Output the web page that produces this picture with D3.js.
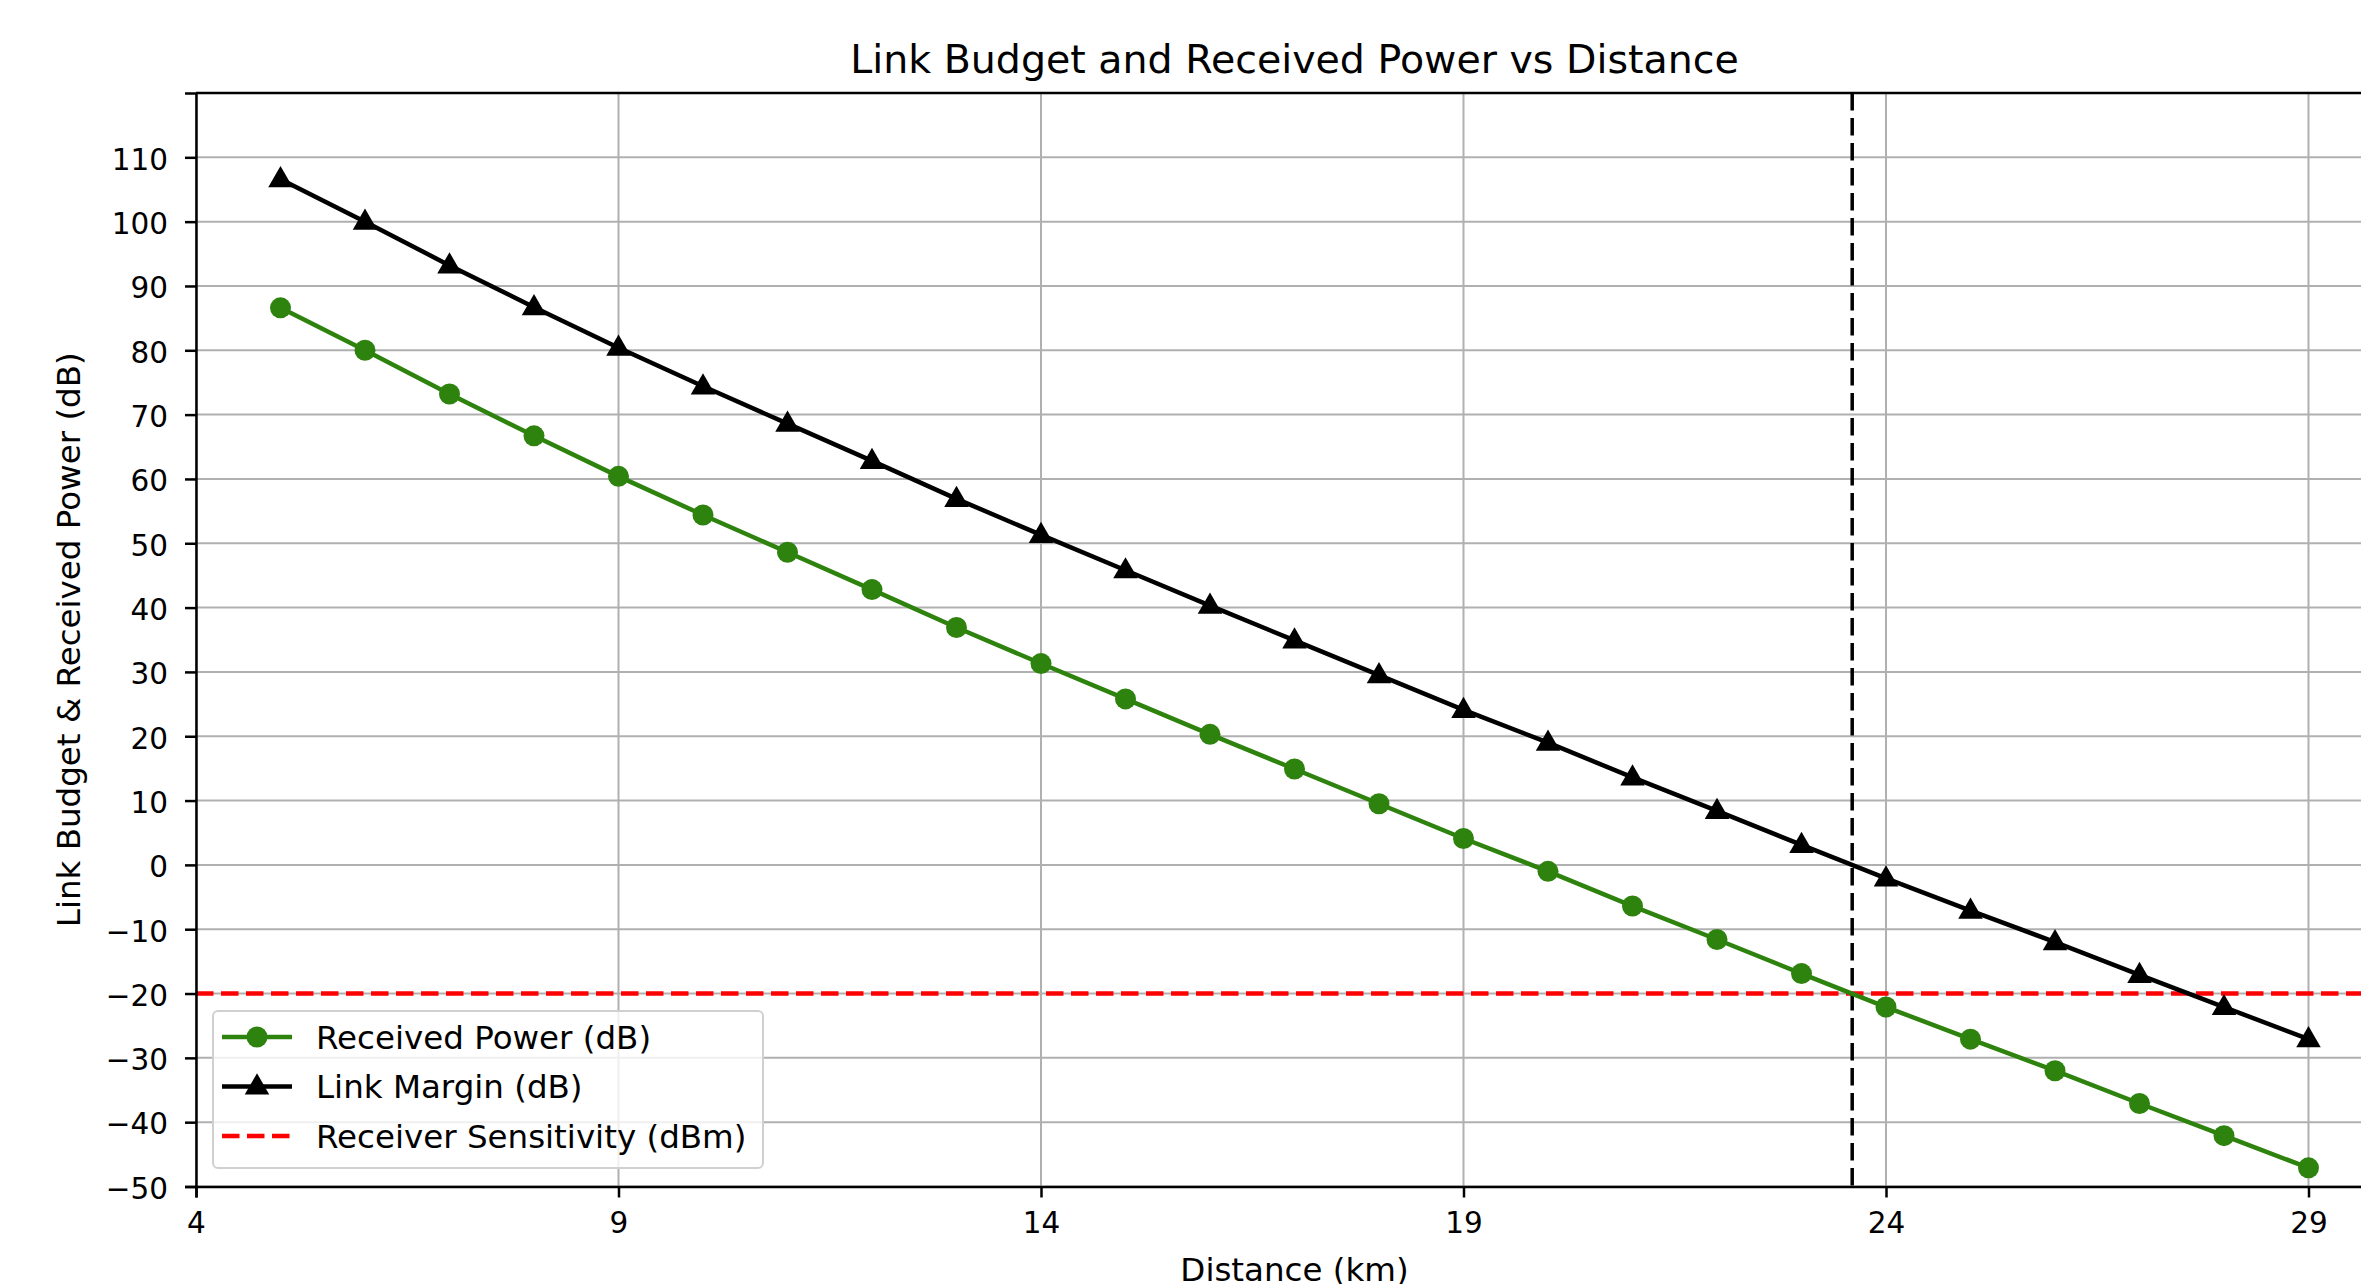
<!DOCTYPE html>
<html lang="en">
<head>
<meta charset="utf-8">
<title>Link Budget and Received Power vs Distance</title>
<script src="https://cdn.jsdelivr.net/npm/d3@7"></script>
<style>
  body { margin: 0; background: #fff; }
  text { font-family: "DejaVu Sans", sans-serif; fill: #000; }
</style>
</head>
<body>
<svg width="2361" height="1284"></svg>
<script>
// data
var distance = [5, 6, 7, 8, 9, 10, 11, 12, 13, 14, 15, 16, 17, 18, 19, 20, 21, 22, 23, 24, 25, 26, 27, 28, 29];
var receivedPower = [86.6, 80.0, 73.2, 66.7, 60.4, 54.4, 48.6, 42.8, 36.9, 31.3, 25.8, 20.3, 14.9, 9.5, 4.1,
                     -1.0, -6.4, -11.6, -16.9, -22.1, -27.1, -32.0, -37.1, -42.1, -47.1];
var linkMargin = [106.6, 100.0, 93.2, 86.7, 80.4, 74.4, 68.6, 62.8, 56.9, 51.3, 45.8, 40.3, 34.9, 29.5, 24.1,
                  19.0, 13.6, 8.4, 3.1, -2.1, -7.1, -12.0, -17.1, -22.1, -27.1];
var sensitivity = -20;
var maxRange = 23.6;
var xTicks = [4, 9, 14, 19, 24, 29];
var yTicks = [-50, -40, -30, -20, -10, 0, 10, 20, 30, 40, 50, 60, 70, 80, 90, 100, 110];
var seriesNames = ["Received Power (dB)", "Link Margin (dB)", "Receiver Sensitivity (dBm)"];

var svg = d3.select("svg"),
    margin = {top: 93, left: 196, bottom: 1186.5};

var x = d3.scaleLinear().domain([4, 30]).range([margin.left, margin.left + 26 * 84.5]),
    y = d3.scaleLinear().domain([-50, 120]).range([margin.bottom, margin.top]);

var green = "#2e820e";
var fmt = function(d) { return d < 0 ? "\u2212" + Math.abs(d) : "" + d; };

// grid
var grid = svg.append("g").attr("stroke", "#b0b0b0").attr("stroke-width", 2);
grid.selectAll(".gx").data(xTicks).enter().append("line")
    .attr("x1", function(d) { return x(d); }).attr("x2", function(d) { return x(d); })
    .attr("y1", y(-50)).attr("y2", y(120));
grid.selectAll(".gy").data(yTicks).enter().append("line")
    .attr("x1", x(4)).attr("x2", x(30))
    .attr("y1", function(d) { return y(d); }).attr("y2", function(d) { return y(d); });

// reference lines
svg.append("line")
    .attr("x1", x(4)).attr("x2", x(30))
    .attr("y1", y(sensitivity)).attr("y2", y(sensitivity))
    .attr("stroke", "#ff0000").attr("stroke-width", 4.5)
    .attr("stroke-dasharray", "17.5,7.5");

svg.append("line")
    .attr("x1", x(maxRange)).attr("x2", x(maxRange))
    .attr("y1", y(120)).attr("y2", y(-50))
    .attr("stroke", "#000").attr("stroke-width", 3.5)
    .attr("stroke-dasharray", "17.5,7.5");

var line = function(vals) {
  return d3.line().x(function(d, i) { return x(distance[i]); }).y(function(d) { return y(d); })(vals);
};

svg.append("path").attr("d", line(receivedPower))
    .attr("fill", "none").attr("stroke", green).attr("stroke-width", 4.5);
svg.selectAll(".dot").data(receivedPower).enter().append("circle")
    .attr("cx", function(d, i) { return x(distance[i]); })
    .attr("cy", function(d) { return y(d); })
    .attr("r", 10.5).attr("fill", green);

svg.append("path").attr("d", line(linkMargin))
    .attr("fill", "none").attr("stroke", "#000").attr("stroke-width", 4.5);
var tri = d3.symbol().type(d3.symbolTriangle).size(260);
svg.selectAll(".tri").data(linkMargin).enter().append("path")
    .attr("d", tri)
    .attr("transform", function(d, i) { return "translate(" + x(distance[i]) + "," + (y(d) + 1) + ")"; })
    .attr("fill", "#000");

// axes
var xAxis = svg.append("g")
    .attr("transform", "translate(0," + y(-50) + ")")
    .call(d3.axisBottom(x).tickValues(xTicks).tickSize(11).tickPadding(13).tickFormat(fmt));
var yAxis = svg.append("g")
    .attr("transform", "translate(" + x(4) + ",0)")
    .call(d3.axisLeft(y).tickValues(yTicks).tickSize(11).tickPadding(17).tickFormat(fmt));
[xAxis, yAxis].forEach(function(a) {
  a.select(".domain").attr("stroke-width", 2.5);
  a.selectAll(".tick line").attr("stroke-width", 2.5);
  a.selectAll("text").style("font-size", "29.5px").attr("font-family", null);
});
yAxis.selectAll(".tick text").attr("dy", "0.4em");
xAxis.selectAll(".tick text").attr("dy", "0.75em");

svg.append("line")
    .attr("x1", x(4)).attr("x2", x(30))
    .attr("y1", y(120)).attr("y2", y(120))
    .attr("stroke", "#000").attr("stroke-width", 2.5);

// titles
svg.append("text")
    .attr("x", (x(4) + x(30)) / 2).attr("y", 73)
    .attr("text-anchor", "middle").style("font-size", "39.5px")
    .text("Link Budget and Received Power vs Distance");
svg.append("text")
    .attr("x", (x(4) + x(30)) / 2).attr("y", 1281)
    .attr("text-anchor", "middle").style("font-size", "32.5px")
    .text("Distance (km)");
svg.append("text")
    .attr("transform", "translate(80," + (y(-50) + y(120)) / 2 + ") rotate(-90)")
    .attr("text-anchor", "middle").style("font-size", "32.5px")
    .text("Link Budget & Received Power (dB)");

// legend
var lg = svg.append("g").attr("transform", "translate(213,1011)");
lg.append("rect").attr("width", 550).attr("height", 157).attr("rx", 5)
    .attr("fill", "#fff").attr("fill-opacity", 0.8)
    .attr("stroke", "#d0d0d0").attr("stroke-width", 2);
var rows = lg.selectAll(".row").data(seriesNames).enter().append("g")
    .attr("transform", function(d, i) { return "translate(0," + (26 + i * 49.5) + ")"; });
rows.append("line").attr("x1", 9).attr("x2", 79).attr("y1", 0).attr("y2", 0)
    .attr("stroke", function(d, i) { return [green, "#000", "#ff0000"][i]; })
    .attr("stroke-width", 4.5)
    .attr("stroke-dasharray", function(d, i) { return i == 2 ? "17.5,7.5" : null; });
rows.filter(function(d, i) { return i == 0; }).append("circle")
    .attr("cx", 44).attr("r", 10.5).attr("fill", green);
rows.filter(function(d, i) { return i == 1; }).append("path")
    .attr("d", tri).attr("transform", "translate(44,1)").attr("fill", "#000");
rows.append("text").attr("x", 103).attr("dy", "0.36em")
    .style("font-size", "32.5px").text(function(d) { return d; });
</script>
</body>
</html>
